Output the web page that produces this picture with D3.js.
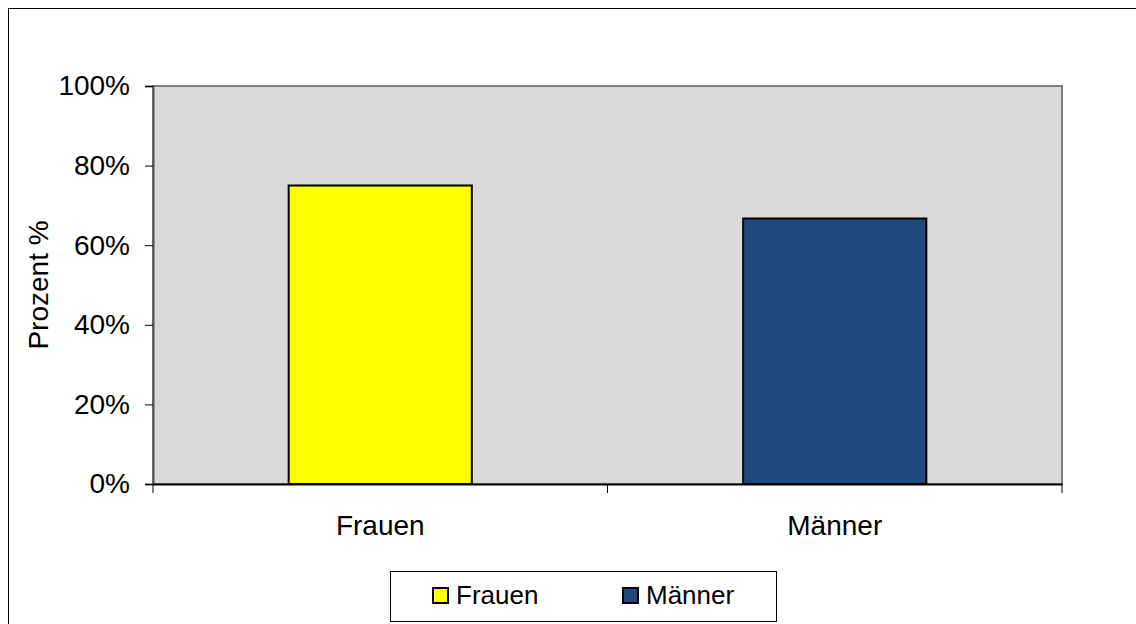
<!DOCTYPE html>
<html>
<head>
<meta charset="utf-8">
<script src="https://cdn.jsdelivr.net/npm/d3@7"></script>
<style>
  body { margin: 0; background: #fff; }
  svg { display: block; font-family: "Liberation Sans", Arial, sans-serif; }
</style>
</head>
<body>
<div id="chart"></div>
<script>
// data
var categories = ["Frauen", "Männer"];
var values = [75, 66.7];
var colors = ["#ffff00", "#1f497d"];
var yTicks = [0, 20, 40, 60, 80, 100];

var W = 1136, H = 624;
var margin = { top: 86, right: 74, bottom: 140, left: 153 },
    width = W - margin.left - margin.right,
    height = H - margin.top - margin.bottom;

var svg = d3.select("#chart")
  .append("svg")
  .attr("width", W)
  .attr("height", H);

// outer frame
svg.append("rect")
  .attr("x", 8.5).attr("y", 8.5)
  .attr("width", W + 10).attr("height", H + 10)
  .attr("fill", "none").attr("stroke", "#000").attr("stroke-width", 1);

var g = svg.append("g")
  .attr("transform", "translate(" + margin.left + "," + margin.top + ")");

var x = d3.scaleBand()
  .domain(categories)
  .range([0, width])
  .padding(0);

var y = d3.scaleLinear()
  .domain([0, 100])
  .range([height, 0]);

// plot background
g.append("rect")
  .attr("x", 0).attr("y", 0)
  .attr("width", width).attr("height", height)
  .attr("fill", "#d9d9d9")
  .attr("stroke", "#808080").attr("stroke-width", 2);

// bars
var bw = x.bandwidth() * 0.403;
g.selectAll(".bar")
  .data(categories)
  .enter().append("rect")
  .attr("class", "bar")
  .attr("x", function (d) { return x(d) + x.bandwidth() / 2 - bw / 2; })
  .attr("y", function (d, i) { return y(values[i]); })
  .attr("width", bw)
  .attr("height", function (d, i) { return height - y(values[i]); })
  .attr("fill", function (d, i) { return colors[i]; })
  .attr("stroke", "#000").attr("stroke-width", 2);

// y axis
var yAxis = g.append("g")
  .call(d3.axisLeft(y).tickValues(yTicks).tickSize(8).tickPadding(15)
    .tickFormat(function (d) { return d + "%"; }));
yAxis.select(".domain").attr("stroke", "#555").attr("stroke-width", 2);
yAxis.selectAll(".tick line").attr("stroke", "#000");
yAxis.selectAll("text")
  .attr("font-size", "28px").attr("fill", "#000")
  .attr("font-family", "Liberation Sans, Arial, sans-serif");

// x axis
var xAxis = g.append("g")
  .attr("transform", "translate(0," + height + ")")
  .call(d3.axisBottom(x).tickSize(0).tickPadding(31));
xAxis.select(".domain").attr("stroke", "#000").attr("stroke-width", 2);
xAxis.selectAll("text")
  .attr("font-size", "28px").attr("fill", "#000")
  .attr("font-family", "Liberation Sans, Arial, sans-serif");

// x tick marks at band edges
var edges = [0, width / 2, width];
g.selectAll(".xedge")
  .data(edges)
  .enter().append("line")
  .attr("class", "xedge")
  .attr("x1", function (d) { return d; }).attr("x2", function (d) { return d; })
  .attr("y1", height).attr("y2", height + 9)
  .attr("stroke", "#000").attr("stroke-width", 1);

// y axis title
svg.append("text")
  .attr("transform", "translate(48," + (margin.top + height / 2) + ") rotate(-90)")
  .attr("text-anchor", "middle")
  .attr("font-size", "28px")
  .text("Prozent %");

// legend
var lg = svg.append("g").attr("transform", "translate(390,571)");
lg.append("rect")
  .attr("x", 0.5).attr("y", 0.5)
  .attr("width", 386).attr("height", 50)
  .attr("fill", "#fff").attr("stroke", "#000").attr("stroke-width", 1);

var items = lg.selectAll(".item")
  .data(categories)
  .enter().append("g")
  .attr("class", "item")
  .attr("transform", function (d, i) { return "translate(" + (43 + i * 190) + ",17)"; });
items.append("rect")
  .attr("width", 15).attr("height", 15)
  .attr("fill", function (d, i) { return colors[i]; })
  .attr("stroke", "#000").attr("stroke-width", 2);
items.append("text")
  .attr("x", 23).attr("y", 16)
  .attr("font-size", "26px")
  .text(function (d) { return d; });
</script>
</body>
</html>
